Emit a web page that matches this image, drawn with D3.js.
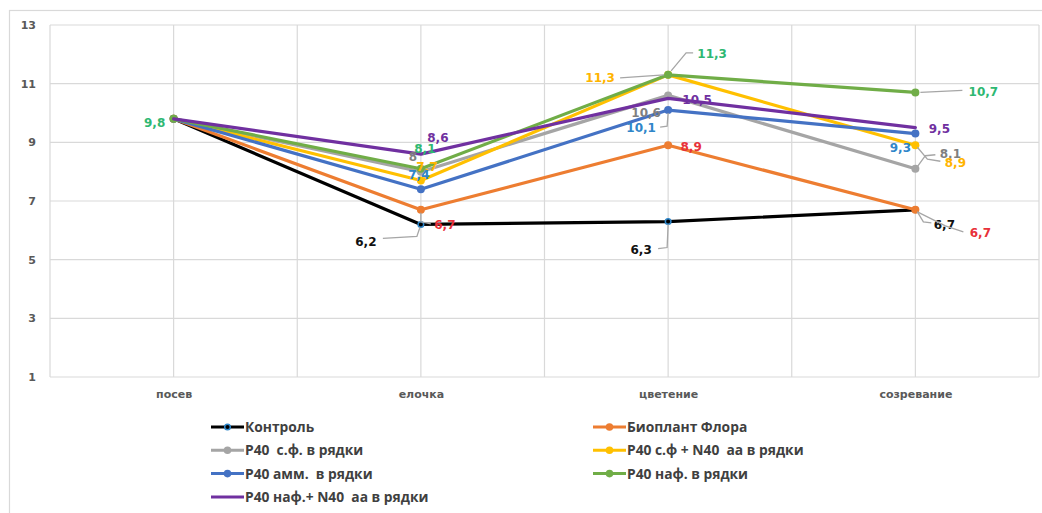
<!DOCTYPE html>
<html>
<head>
<meta charset="utf-8">
<script src="https://cdn.jsdelivr.net/npm/d3@7/dist/d3.min.js"></script>
<style>
  html, body { margin: 0; padding: 0; background: #fff; }
  svg { display: block; }
  text { white-space: pre; }
</style>
</head>
<body>
<svg id="chart" width="1042" height="513"></svg>
<script>
// Growth stages on the x axis
const categories = ["посев", "елочка", "цветение", "созревание"];

// Values per treatment, one per stage
const kontrol      = [9.8, 6.2, 6.3, 6.7];
const bioplant     = [9.8, 6.7, 8.9, 6.7];
const p40sf        = [9.8, 8.0, 10.6, 8.1];
const p40sfN40     = [9.8, 7.7, 11.3, 8.9];
const p40amm       = [9.8, 7.4, 10.1, 9.3];
const p40naf       = [9.8, 8.1, 11.3, 10.7];
const p40nafN40    = [9.8, 8.6, 10.5, 9.5];

const seriesNames = [
  "Контроль",
  "Биоплант Флора",
  "P40  с.ф. в рядки",
  "P40 с.ф + N40  аа в рядки",
  "P40 амм.  в рядки",
  "P40 наф. в рядки",
  "P40 наф.+ N40  аа в рядки"
];
const seriesValues = [kontrol, bioplant, p40sf, p40sfN40, p40amm, p40naf, p40nafN40];

const yTicks = [1, 3, 5, 7, 9, 11, 13];

// Styling per series: line colour, label colour, marker
const lineColors  = ["#000000", "#ed7d31", "#a5a5a5", "#ffc000", "#4472c4", "#70ad47", "#7030a0"];
const labelColors = ["#111111", "#e8313a", "#7f7f7f", "#ffb400", "#2f86c9", "#2eb872", "#7030a0"];
const hasMarker   = [true, true, true, true, true, true, false];

// Data label placement: [dx, dy] from the point (text centre), optional leader polyline offsets
const labelLayout = [
  [null, {o: [-55, 17], lead: [[-1, 3], [-4, 12], [-38, 14]]}, {o: [-27, 28], lead: [[0, 3], [-1, 26], [-10, 27]]}, {o: [29, 15], lead: [[2, 2], [8, 12], [16, 13]]}],
  [null, {o: [24, 15], lead: [[0, 3], [0, 12], [10, 14]]}, {o: [23, 1]}, {o: [65, 23], lead: [[2, 2], [30, 16], [48, 22]]}],
  [null, {o: [-8, -15]}, {o: [-22, 17]}, {o: [35, -15], lead: [[2, -2], [10, -13], [20, -14]]}],
  [null, {o: [6, -14]}, {o: [-68, 3], lead: [[-48, 3], [-4, 0]]}, {o: [40, 17], lead: [[2, 2], [12, 14], [25, 16]]}],
  [null, {o: [-2, -15]}, {o: [-27, 18], lead: [[0, 3], [-1, 16], [-8, 17]]}, {o: [-15, 14]}],
  [{o: [-19, 4]}, {o: [4, -20]}, {o: [44, -21], lead: [[3, -4], [18, -22], [25, -22]]}, {o: [68, -1], lead: [[5, 0], [47, -2]]}],
  [null, {o: [17, -16]}, {o: [29, 1]}, {o: [24, 1]}]
];

const svg = d3.select("#chart");
const plot = {left: 50, top: 25, right: 1039, bottom: 377};

const x = d3.scalePoint().domain(categories).range([plot.left, plot.right]).padding(0.5);
const y = d3.scaleLinear().domain([1, 13]).range([plot.bottom, plot.top]);

const ru = d3.formatLocale({decimal: ",", thousands: " ", grouping: [3], currency: ["", ""]});
const fmt = ru.format(".1~f");

// Outer chart frame
svg.append("rect")
  .attr("x", 9.5).attr("y", 10.5).attr("width", 1100).attr("height", 600)
  .attr("fill", "none").attr("stroke", "#d9d9d9").attr("stroke-width", 1.2);

const grid = svg.append("g").attr("stroke", "#d9d9d9").attr("stroke-width", 1.2);
// Horizontal gridlines
grid.selectAll("line.h").data(yTicks).join("line")
  .attr("x1", plot.left).attr("x2", plot.right)
  .attr("y1", d => y(d)).attr("y2", d => y(d));
// Vertical gridlines at stage centres and between stages
const step = x.step();
const vLines = [];
categories.forEach(c => { vLines.push(x(c)); vLines.push(x(c) + step / 2); });
vLines.push(x(categories[0]) - step / 2);
grid.selectAll("line.v").data(vLines).join("line")
  .attr("x1", d => d).attr("x2", d => d)
  .attr("y1", plot.top).attr("y2", plot.bottom);

// Y axis labels
const yAxis = d3.axisLeft(y).tickValues(yTicks).tickSize(0).tickPadding(14);
svg.append("g").attr("transform", `translate(${plot.left},0)`).call(yAxis)
  .call(g => g.select(".domain").remove())
  .call(g => g.selectAll("text")
    .attr("fill", "#595959").attr("font-family", "DejaVu Sans").attr("font-weight", "bold").attr("font-size", 11));

// X axis labels
const xAxis = d3.axisBottom(x).tickSize(0).tickPadding(13);
svg.append("g").attr("transform", `translate(0,${plot.bottom})`).call(xAxis)
  .call(g => g.select(".domain").remove())
  .call(g => g.selectAll("text")
    .attr("fill", "#595959").attr("font-family", "DejaVu Sans").attr("font-weight", "bold").attr("font-size", 11));

// Lines and markers
const line = d3.line().x((d, i) => x(categories[i])).y(d => y(d));
const seriesG = svg.append("g");
seriesValues.forEach((vals, s) => {
  const g = seriesG.append("g");
  g.append("path").datum(vals)
    .attr("d", line).attr("fill", "none")
    .attr("stroke", lineColors[s]).attr("stroke-width", 3.2)
    .attr("stroke-linejoin", "round").attr("stroke-linecap", "round");
  if (hasMarker[s]) {
    g.selectAll("circle").data(vals).join("circle")
      .attr("cx", (d, i) => x(categories[i])).attr("cy", d => y(d))
      .attr("r", s === 0 ? 2.8 : 4)
      .attr("fill", lineColors[s])
      .attr("stroke", s === 0 ? "#2e86c9" : lineColors[s])
      .attr("stroke-width", s === 0 ? 1.5 : 0);
  }
});

// Leader lines and data labels
const labG = svg.append("g");
seriesValues.forEach((vals, s) => {
  vals.forEach((v, i) => {
    const lab = labelLayout[s][i];
    if (!lab) return;
    const px = x(categories[i]), py = y(v);
    if (lab.lead) {
      labG.append("polyline")
        .attr("points", lab.lead.map(p => `${px + p[0]},${py + p[1]}`).join(" "))
        .attr("fill", "none").attr("stroke", "#a6a6a6").attr("stroke-width", 1.3);
    }
    labG.append("text")
      .attr("x", px + lab.o[0]).attr("y", py + lab.o[1])
      .attr("dy", "0.36em").attr("text-anchor", "middle")
      .attr("font-family", "DejaVu Sans").attr("font-weight", "bold").attr("font-size", 12)
      .attr("fill", labelColors[s])
      .text(fmt(v));
  });
});

// Legend: two columns, filled row by row
const legendCols = [211, 593];
const legendRow0 = 427, legendRowStep = 23.3;
const legend = svg.append("g");
seriesNames.forEach((name, s) => {
  const lx = legendCols[s % 2];
  const ly = legendRow0 + Math.floor(s / 2) * legendRowStep;
  const g = legend.append("g").attr("transform", `translate(${lx},${ly})`);
  g.append("line").attr("x1", 0).attr("x2", 33).attr("y1", 0).attr("y2", 0)
    .attr("stroke", lineColors[s]).attr("stroke-width", 3);
  if (hasMarker[s]) {
    g.append("circle").attr("cx", 16.5).attr("cy", 0).attr("r", s === 0 ? 2.8 : 3.8)
      .attr("fill", lineColors[s])
      .attr("stroke", s === 0 ? "#2e86c9" : lineColors[s])
      .attr("stroke-width", s === 0 ? 1.5 : 0);
  }
  g.append("text").attr("x", 34).attr("y", 0).attr("dy", "0.36em")
    .attr("font-family", "Open Sans").attr("font-weight", "bold").attr("font-size", 13.8)
    .attr("fill", "#404040")
    .text(name);
});
</script>
</body>
</html>
